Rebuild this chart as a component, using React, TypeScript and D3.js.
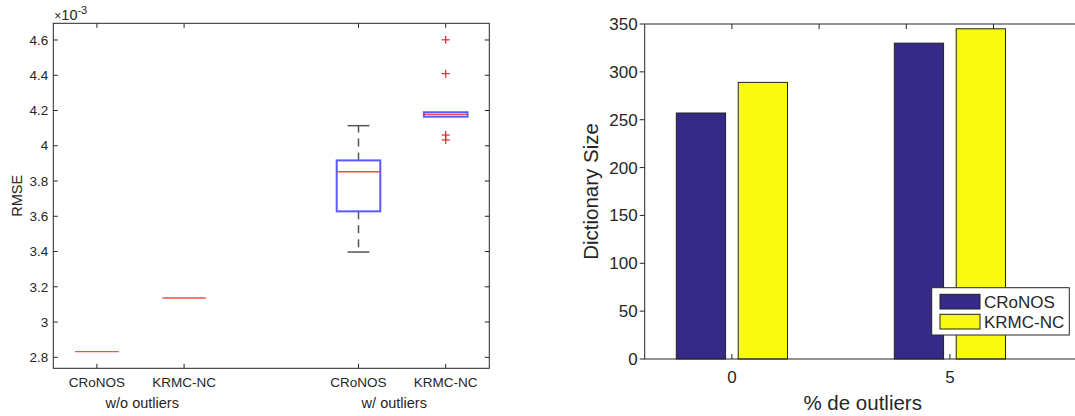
import React from "react";
import * as d3 from "d3";

// ---------- Left chart data (RMSE, units of 1e-3) ----------
const boxLabels = ["CRoNOS", "KRMC-NC", "CRoNOS", "KRMC-NC"];
const boxPositions = [1, 2, 4, 5];
const medians = [2.832, 3.136, 3.853, 4.178];
const q1s = [2.832, 3.136, 3.628, 4.165];
const q3s = [2.832, 3.136, 3.917, 4.19];
const whiskerLows = [2.832, 3.136, 3.397, 4.165];
const whiskerHighs = [2.832, 3.136, 4.114, 4.19];
const outlierValues = [[], [], [], [4.601, 4.409, 4.061, 4.033]];
const rmseTicks = [2.8, 3, 3.2, 3.4, 3.6, 3.8, 4, 4.2, 4.4, 4.6];
const groupLabels = [
  { text: "w/o outliers", pos: 1.52 },
  { text: "w/ outliers", pos: 4.41 },
];

// ---------- Right chart data (Dictionary size) ----------
const outlierPercents = [0, 5];
const cronosSizes = [257, 330];
const krmcSizes = [289, 345];
const seriesNames = ["CRoNOS", "KRMC-NC"];
const seriesColors = ["#352a87", "#f9fb0e"];
const sizeTicks = [0, 50, 100, 150, 200, 250, 300, 350];
const bottomXTicks = [0, 5];
const topXTicks = [0, 2, 4, 6];

const FONT = "'Liberation Sans', Arial, Helvetica, sans-serif";
const TXT = "#262626";

export default function App() {
  // Left axes
  const L = { x0: 53.3, x1: 489.3, y0: 23.3, y1: 368.3 };
  const xL = d3.scaleLinear().domain([0.5, 5.5]).range([L.x0, L.x1]);
  const yL = d3.scaleLinear().domain([2.7376, 4.6947]).range([L.y1, L.y0]);
  const halfBox = 0.25;
  const halfCap = 0.125;

  // Right axes
  const R = { x0: 644.7, x1: 1080.7, y0: 24, y1: 359 };
  const xR = d3.scaleLinear().domain([-2, 8]).range([R.x0, R.x1]);
  const yR = d3.scaleLinear().domain([0, 350]).range([R.y1, R.y0]);
  const barOffset = 0.71;
  const barWidth = 1.13;
  const series = [cronosSizes, krmcSizes];

  return (
    <div style={{ position: "fixed", left: 0, top: 0 }}>
      <svg width={1075} height={416} style={{ display: "block", background: "#fff" }} fontFamily={FONT}>
        {/* ================= LEFT: boxplot ================= */}
        <g>
          {rmseTicks.map((t) => (
            <g key={"yt" + t}>
              <line x1={L.x0} x2={L.x0 + 4.5} y1={yL(t)} y2={yL(t)} stroke={TXT} strokeWidth={1} />
              <line x1={L.x1} x2={L.x1 - 4.5} y1={yL(t)} y2={yL(t)} stroke={TXT} strokeWidth={1} />
              <text x={L.x0 - 5} y={yL(t)} dy="0.35em" textAnchor="end" fontSize={13.5} fill={TXT}>
                {d3.format("~g")(t)}
              </text>
            </g>
          ))}
          {boxPositions.map((p, i) => (
            <g key={"xt" + i}>
              <line x1={xL(p)} x2={xL(p)} y1={L.y1} y2={L.y1 - 4.5} stroke={TXT} strokeWidth={1} />
              <line x1={xL(p)} x2={xL(p)} y1={L.y0} y2={L.y0 + 4.5} stroke={TXT} strokeWidth={1} />
              <text x={xL(p)} y={387} textAnchor="middle" fontSize={13.5} fill={TXT}>
                {boxLabels[i]}
              </text>
            </g>
          ))}
          {groupLabels.map((g) => (
            <text key={g.text} x={xL(g.pos)} y={407.5} textAnchor="middle" fontSize={14.5} fill={TXT}>
              {g.text}
            </text>
          ))}
          <text x={L.x0 + 1} y={20} fontSize={14.5} fill={TXT}>
            <tspan fontSize={12}>×</tspan>
            <tspan>10</tspan>
            <tspan dy={-6} fontSize={11}>-3</tspan>
          </text>
          <text
            transform={`translate(${22},${(L.y0 + L.y1) / 2}) rotate(-90)`}
            textAnchor="middle"
            fontSize={14.5}
            fill={TXT}
          >
            RMSE
          </text>

          {boxPositions.map((p, i) => {
            const cx = xL(p);
            const bx0 = xL(p - halfBox);
            const bx1 = xL(p + halfBox);
            const cx0 = xL(p - halfCap);
            const cx1 = xL(p + halfCap);
            const hasBox = q3s[i] > q1s[i];
            return (
              <g key={"box" + i}>
                {whiskerHighs[i] > q3s[i] && (
                  <>
                    <line x1={cx} x2={cx} y1={yL(q3s[i])} y2={yL(whiskerHighs[i])} stroke="#555" strokeWidth={1.5} strokeDasharray="8,6" />
                    <line x1={cx0} x2={cx1} y1={yL(whiskerHighs[i])} y2={yL(whiskerHighs[i])} stroke="#555" strokeWidth={1.5} />
                  </>
                )}
                {whiskerLows[i] < q1s[i] && (
                  <>
                    <line x1={cx} x2={cx} y1={yL(q1s[i])} y2={yL(whiskerLows[i])} stroke="#555" strokeWidth={1.5} strokeDasharray="8,6" />
                    <line x1={cx0} x2={cx1} y1={yL(whiskerLows[i])} y2={yL(whiskerLows[i])} stroke="#555" strokeWidth={1.5} />
                  </>
                )}
                {hasBox && (
                  <rect
                    x={bx0}
                    y={yL(q3s[i])}
                    width={bx1 - bx0}
                    height={yL(q1s[i]) - yL(q3s[i])}
                    fill="none"
                    stroke="#5a5aff"
                    strokeWidth={2}
                  />
                )}
                <line x1={bx0} x2={bx1} y1={yL(medians[i])} y2={yL(medians[i])} stroke="#ff4a4a" strokeWidth={1.4} />
                {outlierValues[i].map((v, j) => (
                  <g key={"o" + j} stroke="#e8202a" strokeWidth={1.2}>
                    <line x1={cx - 4} x2={cx + 4} y1={yL(v)} y2={yL(v)} />
                    <line x1={cx} x2={cx} y1={yL(v) - 4} y2={yL(v) + 4} />
                  </g>
                ))}
              </g>
            );
          })}
          <rect x={L.x0} y={L.y0} width={L.x1 - L.x0} height={L.y1 - L.y0} fill="none" stroke={TXT} strokeWidth={1} />
        </g>

        {/* ================= RIGHT: bars ================= */}
        <g>
          {sizeTicks.map((t) => (
            <g key={"rt" + t}>
              <line x1={R.x0} x2={R.x0 - 5} y1={yR(t)} y2={yR(t)} stroke={TXT} strokeWidth={1} />
              <text x={R.x0 - 7} y={yR(t)} dy="0.35em" textAnchor="end" fontSize={17} fill={TXT}>
                {t}
              </text>
            </g>
          ))}
          {bottomXTicks.map((t) => (
            <g key={"bx" + t}>
              <line x1={xR(t)} x2={xR(t)} y1={R.y1} y2={R.y1 - 5} stroke={TXT} strokeWidth={1} />
              <text x={xR(t)} y={382.5} textAnchor="middle" fontSize={17} fill={TXT}>
                {t}
              </text>
            </g>
          ))}
          {topXTicks.map((t) => (
            <line key={"tx" + t} x1={xR(t)} x2={xR(t)} y1={R.y0} y2={R.y0 + 5} stroke={TXT} strokeWidth={1} />
          ))}

          {series.map((vals, s) =>
            outlierPercents.map((g, i) => {
              const center = g + (s === 0 ? -barOffset : barOffset);
              const x0 = xR(center - barWidth / 2);
              const x1 = xR(center + barWidth / 2);
              return (
                <rect
                  key={`b${s}-${i}`}
                  x={x0}
                  y={yR(vals[i])}
                  width={x1 - x0}
                  height={yR(0) - yR(vals[i])}
                  fill={seriesColors[s]}
                  stroke="#222"
                  strokeWidth={1}
                />
              );
            })
          )}

          <rect x={R.x0} y={R.y0} width={R.x1 - R.x0} height={R.y1 - R.y0} fill="none" stroke={TXT} strokeWidth={1} />

          <text
            transform={`translate(${598},${(R.y0 + R.y1) / 2}) rotate(-90)`}
            textAnchor="middle"
            fontSize={20.5}
            fill={TXT}
          >
            Dictionary Size
          </text>
          <text x={(R.x0 + R.x1) / 2} y={410} textAnchor="middle" fontSize={20.5} fill={TXT}>
            % de outliers
          </text>

          <g>
            <rect x={931.7} y={287.7} width={137.6} height={47.3} fill="#fff" stroke="#262626" strokeWidth={1} />
            {seriesNames.map((n, i) => (
              <g key={n}>
                <rect x={940} y={294.3 + i * 20} width={40} height={14.7} fill={seriesColors[i]} stroke="#222" strokeWidth={1} />
                <text x={984} y={301.7 + i * 20} dy="0.35em" fontSize={17} fill={TXT}>
                  {n}
                </text>
              </g>
            ))}
          </g>
        </g>
      </svg>
    </div>
  );
}
